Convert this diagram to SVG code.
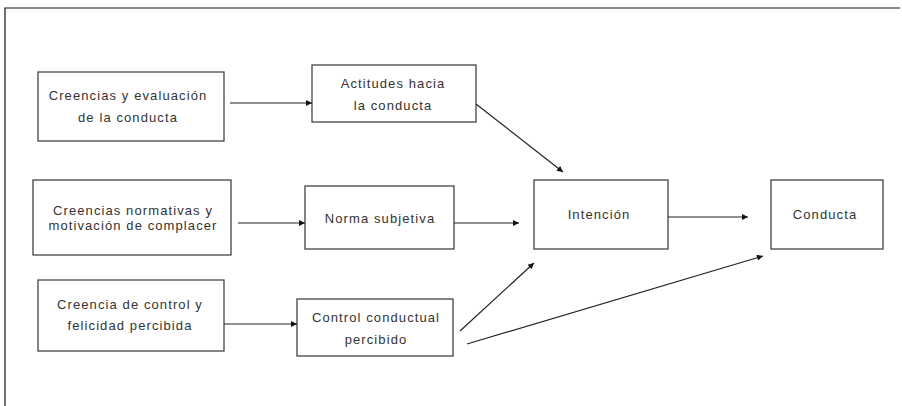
<svg xmlns="http://www.w3.org/2000/svg" width="902" height="406" viewBox="0 0 902 406">
  <style>
    .box { fill: #fff; stroke: #444; stroke-width: 1.3; }
    .lbl { font-family: "Liberation Sans", Arial, sans-serif; font-size: 13px; letter-spacing: 1.1px; fill: #333; text-anchor: middle; }
    .edge { stroke: #222; stroke-width: 1.2; fill: none; marker-end: url(#arrow); }
  </style>
  <defs>
    <marker id="arrow" viewBox="0 0 10 10" refX="10" refY="5" markerWidth="8" markerHeight="6" markerUnits="userSpaceOnUse" orient="auto">
      <path d="M0,0 L10,5 L0,10 z" fill="#111"/>
    </marker>
  </defs>

  <!-- page frame -->
  <path d="M5,406 L5,8 L900,8" fill="none" stroke="#111" stroke-width="1.2"/>

  <g id="creencias-evaluacion">
    <rect class="box" x="38" y="72" width="186" height="69"/>
    <text class="lbl" x="128" y="100">Creencias y evaluación</text>
    <text class="lbl" x="128" y="122">de la conducta</text>
  </g>
  <g id="actitudes">
    <rect class="box" x="312" y="65" width="164" height="57"/>
    <text class="lbl" x="393" y="88">Actitudes hacia</text>
    <text class="lbl" x="393" y="110">la conducta</text>
  </g>
  <g id="creencias-normativas">
    <rect class="box" x="33" y="180" width="198" height="75"/>
    <text class="lbl" x="133" y="215">Creencias normativas y</text>
    <text class="lbl" x="133" y="230">motivación de complacer</text>
  </g>
  <g id="norma">
    <rect class="box" x="305" y="186" width="149" height="63"/>
    <text class="lbl" x="380" y="223">Norma subjetiva</text>
  </g>
  <g id="creencia-control">
    <rect class="box" x="38" y="280" width="186" height="71"/>
    <text class="lbl" x="130" y="309">Creencia de control y</text>
    <text class="lbl" x="130" y="330">felicidad percibida</text>
  </g>
  <g id="control">
    <rect class="box" x="297" y="299" width="156" height="57"/>
    <text class="lbl" x="376" y="322">Control conductual</text>
    <text class="lbl" x="376" y="344">percibido</text>
  </g>
  <g id="intencion">
    <rect class="box" x="534" y="180" width="134" height="69"/>
    <text class="lbl" x="599" y="219">Intención</text>
  </g>
  <g id="conducta">
    <rect class="box" x="771" y="180" width="112" height="69"/>
    <text class="lbl" x="825" y="219">Conducta</text>
  </g>

  <g id="connectors">
    <line class="edge" x1="230" y1="103" x2="312" y2="103"/>
    <line class="edge" x1="238" y1="223" x2="305" y2="223"/>
    <line class="edge" x1="224" y1="324" x2="297" y2="324"/>
    <line class="edge" x1="476" y1="104" x2="563" y2="172"/>
    <line class="edge" x1="454" y1="223" x2="519" y2="223"/>
    <line class="edge" x1="460" y1="331" x2="534" y2="263"/>
    <line class="edge" x1="668" y1="217" x2="748" y2="217"/>
    <line class="edge" x1="467" y1="344" x2="763" y2="256"/>
  </g>
</svg>
